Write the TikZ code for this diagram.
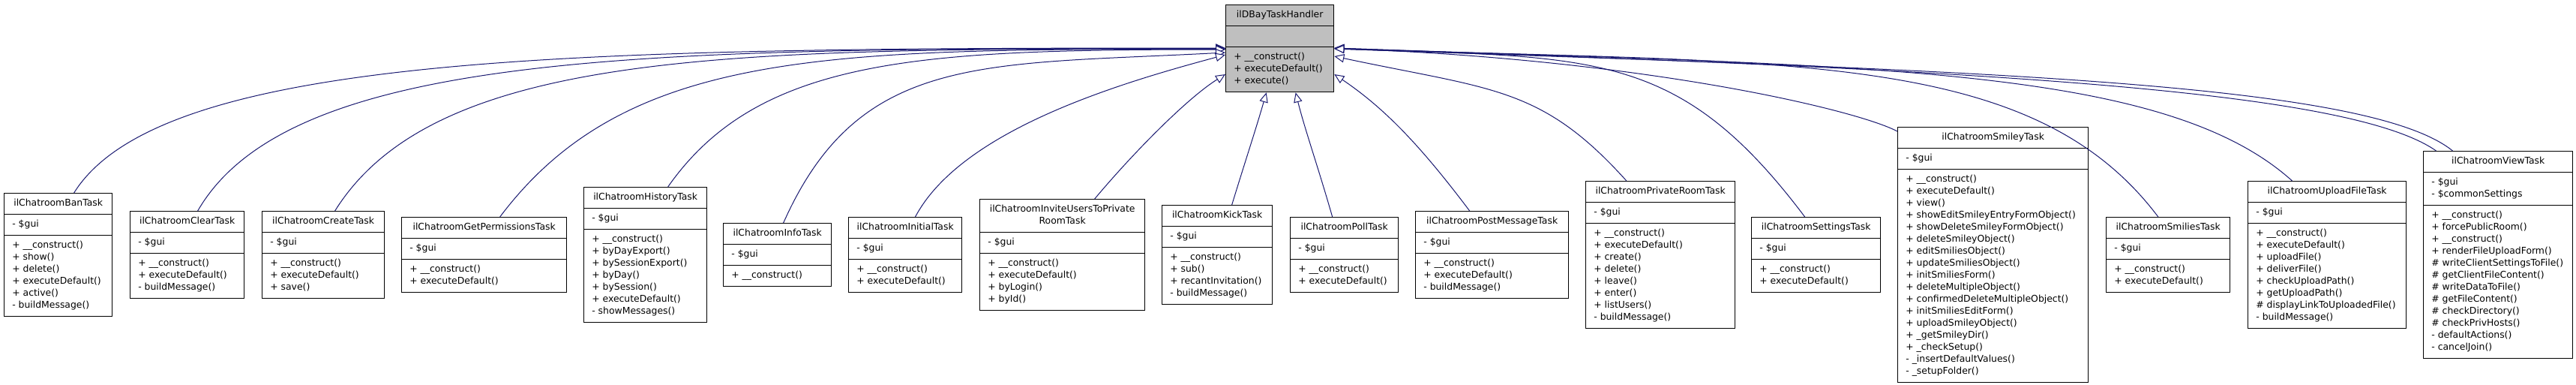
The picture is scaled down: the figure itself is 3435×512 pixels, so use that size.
\documentclass[tikz,border=0pt]{standalone}
\usepackage{fontspec}
\usetikzlibrary{shapes.multipart,arrows.meta}
\newfontfamily\dvsans{DejaVu Sans}
\newcommand\classfont{\dvsans\fontsize{9.3}{12}\selectfont}
\definecolor{basegray}{HTML}{BFBFBF}
\definecolor{edgeblue}{HTML}{191970}

\begin{document}
\begin{tikzpicture}[
    x=0.75pt, y=0.75pt,
    cls/.style={rectangle split, rectangle split parts=3, draw, fill=white, line width=1pt, anchor=north west, align=left, rectangle split part align={center,left,left}, inner xsep=8pt, inner ysep=4pt, font=\classfont},
    basecls/.style={cls, fill=basegray},
    inherit/.style={draw=edgeblue, line width=0.75pt, -{Triangle[length=9.75pt, width=8.5pt, fill=white]}}
]
\useasboundingbox (0,0) rectangle (3435,512);

\node[basecls, minimum width=108pt] (handler) at (1634,506) {\strut ilDBayTaskHandler \nodepart{two}\strut \nodepart{three}\strut+ \_\_construct()\\+ executeDefault()\\+ execute()\strut};

\node[cls, minimum width=108pt] (ban) at (5,255) {\strut ilChatroomBanTask \nodepart{two}\strut- \$gui \nodepart{three}\strut+ \_\_construct()\\+ show()\\+ delete()\\+ executeDefault()\\+ active()\\- buildMessage()\strut};
\node[cls, minimum width=114pt] (clear) at (173,231) {\strut ilChatroomClearTask \nodepart{two}\strut- \$gui \nodepart{three}\strut+ \_\_construct()\\+ executeDefault()\\- buildMessage()\strut};
\node[cls, minimum width=122.25pt] (create) at (349,231) {\strut ilChatroomCreateTask \nodepart{two}\strut- \$gui \nodepart{three}\strut+ \_\_construct()\\+ executeDefault()\\+ save()\strut};
\node[cls, minimum width=165pt] (perms) at (535,223) {\strut ilChatroomGetPermissionsTask \nodepart{two}\strut- \$gui \nodepart{three}\strut+ \_\_construct()\\+ executeDefault()\strut};
\node[cls, minimum width=123pt] (history) at (778,263) {\strut ilChatroomHistoryTask \nodepart{two}\strut- \$gui \nodepart{three}\strut+ \_\_construct()\\+ byDayExport()\\+ bySessionExport()\\+ byDay()\\+ bySession()\\+ executeDefault()\\- showMessages()\strut};
\node[cls, minimum width=108pt] (info) at (964,215) {\strut ilChatroomInfoTask \nodepart{two}\strut- \$gui \nodepart{three}\strut+ \_\_construct()\strut};
\node[cls, minimum width=113.25pt] (initial) at (1131,223) {\strut ilChatroomInitialTask \nodepart{two}\strut- \$gui \nodepart{three}\strut+ \_\_construct()\\+ executeDefault()\strut};
\node[cls, minimum width=165pt] (invite) at (1306,247) {\begin{tabular}{@{}c@{}}ilChatroomInviteUsersToPrivate\\RoomTask\end{tabular} \nodepart{two}\strut- \$gui \nodepart{three}\strut+ \_\_construct()\\+ executeDefault()\\+ byLogin()\\+ byId()\strut};
\node[cls, minimum width=110.25pt] (kick) at (1549,239) {\strut ilChatroomKickTask \nodepart{two}\strut- \$gui \nodepart{three}\strut+ \_\_construct()\\+ sub()\\+ recantInvitation()\\- buildMessage()\strut};
\node[cls, minimum width=108pt] (poll) at (1720,223) {\strut ilChatroomPollTask \nodepart{two}\strut- \$gui \nodepart{three}\strut+ \_\_construct()\\+ executeDefault()\strut};
\node[cls, minimum width=153pt] (postmsg) at (1887,231) {\strut ilChatroomPostMessageTask \nodepart{two}\strut- \$gui \nodepart{three}\strut+ \_\_construct()\\+ executeDefault()\\- buildMessage()\strut};
\node[cls, minimum width=149.25pt] (privroom) at (2114,271) {\strut ilChatroomPrivateRoomTask \nodepart{two}\strut- \$gui \nodepart{three}\strut+ \_\_construct()\\+ executeDefault()\\+ create()\\+ delete()\\+ leave()\\+ enter()\\+ listUsers()\\- buildMessage()\strut};
\node[cls, minimum width=129pt] (settings) at (2335,223) {\strut ilChatroomSettingsTask \nodepart{two}\strut- \$gui \nodepart{three}\strut+ \_\_construct()\\+ executeDefault()\strut};
\node[cls, minimum width=190.5pt] (smiley) at (2530,343) {\strut ilChatroomSmileyTask \nodepart{two}\strut- \$gui \nodepart{three}\strut+ \_\_construct()\\+ executeDefault()\\+ view()\\+ showEditSmileyEntryFormObject()\\+ showDeleteSmileyFormObject()\\+ deleteSmileyObject()\\+ editSmiliesObject()\\+ updateSmiliesObject()\\+ initSmiliesForm()\\+ deleteMultipleObject()\\+ confirmedDeleteMultipleObject()\\+ initSmiliesEditForm()\\+ uploadSmileyObject()\\+ \_getSmileyDir()\\+ \_checkSetup()\\- \_insertDefaultValues()\\- \_setupFolder()\strut};
\node[cls, minimum width=123.75pt] (smilies) at (2808,223) {\strut ilChatroomSmiliesTask \nodepart{two}\strut- \$gui \nodepart{three}\strut+ \_\_construct()\\+ executeDefault()\strut};
\node[cls, minimum width=158.25pt] (upload) at (2997,271) {\strut ilChatroomUploadFileTask \nodepart{two}\strut- \$gui \nodepart{three}\strut+ \_\_construct()\\+ executeDefault()\\+ uploadFile()\\+ deliverFile()\\+ checkUploadPath()\\+ getUploadPath()\\\# displayLinkToUploadedFile()\\- buildMessage()\strut};
\node[cls, minimum width=149.25pt] (view) at (3231,311) {\strut ilChatroomViewTask \nodepart{two}\strut- \$gui\\- \$commonSettings\strut \nodepart{three}\strut+ \_\_construct()\\+ forcePublicRoom()\\+ \_\_construct()\\+ renderFileUploadForm()\\\# writeClientSettingsToFile()\\\# getClientFileContent()\\\# writeDataToFile()\\\# getFileContent()\\\# checkDirectory()\\\# checkPrivHosts()\\- defaultActions()\\- cancelJoin()\strut};

\draw[inherit] ([xshift=15.75pt]ban.north) .. controls +(58:222) and +(180:845) .. ([yshift=-43.5pt]handler.north west);
\draw[inherit] ([xshift=10.5pt]clear.north) .. controls +(60:250) and +(180:754) .. ([yshift=-43.9pt]handler.north west);
\draw[inherit] ([xshift=11.6pt]create.north) .. controls +(58:255) and +(180:653) .. ([yshift=-44.25pt]handler.north west);
\draw[inherit] ([xshift=15.75pt]perms.north) .. controls +(53:279) and +(180:532) .. ([yshift=-44.6pt]handler.north west);
\draw[inherit] ([xshift=22.5pt]history.north) .. controls +(55:210) and +(180:409) .. ([yshift=-45pt]handler.north west);
\draw[inherit] ([xshift=6pt]info.north) .. controls +(66:248) and +(183:325) .. ([yshift=-48pt]handler.north west);
\draw[inherit] ([xshift=10pt]initial.north) .. controls +(62:130) and +(195:150) .. ([yshift=-50.25pt]handler.north west);
\draw[inherit] ([xshift=32.25pt]invite.north) .. controls +(50:80) and +(212:60) .. ([yshift=-69.75pt]handler.north west);
\draw[inherit] ([xshift=14.6pt]kick.north) .. controls +(73:60) and +(254:50) .. ([xshift=-13.5pt]handler.south);
\draw[inherit] ([xshift=-12pt]poll.north) .. controls +(106:70) and +(284:50) .. ([xshift=15.75pt]handler.south);
\draw[inherit] ([xshift=-22.5pt]postmsg.north) .. controls +(127:110) and +(326:80) .. ([yshift=-69.75pt]handler.north east);
\draw[inherit] ([xshift=-34pt]privroom.north) .. controls +(132:170) and +(348:215) .. ([yshift=-51.75pt]handler.north east);
\draw[inherit] ([xshift=-11.25pt]settings.north) .. controls +(127:282) and +(358:345) .. ([yshift=-44.25pt]handler.north east);
\draw[inherit] ([yshift=-4.5pt]smiley.north west) .. controls +(152:60) and +(358:415) .. ([yshift=-43.9pt]handler.north east);
\draw[inherit] ([xshift=-10pt]smilies.north) .. controls +(127:282) and +(358:604) .. ([yshift=-43.9pt]handler.north east);
\draw[inherit] ([xshift=-35pt]upload.north) .. controls +(138:233) and +(358:703) .. ([yshift=-43.5pt]handler.north east);
\draw[inherit] ([xshift=-62pt]view.north) .. controls +(145:150) and +(358:808) .. ([yshift=-43.5pt]handler.north east);
\draw[inherit] ([xshift=-45.5pt]view.north) .. controls +(141:150) and +(358:820) .. ([yshift=-44.25pt]handler.north east);

\end{tikzpicture}
\end{document}
